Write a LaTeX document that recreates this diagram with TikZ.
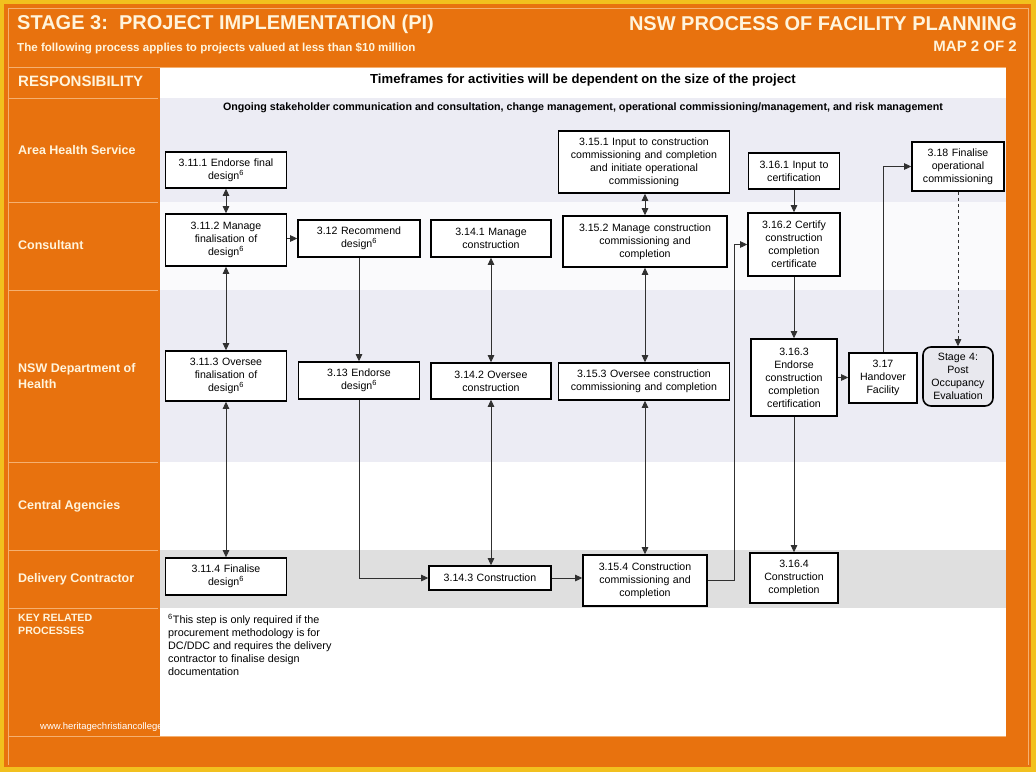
\documentclass[tikz,border=0pt]{standalone}
\usepackage{fontspec}
\setmainfont{Liberation Sans}
\usetikzlibrary{arrows.meta}
\definecolor{orng}{HTML}{E8720E}
\definecolor{orngline}{HTML}{F5B070}
\definecolor{yel}{HTML}{F2C01E}
\definecolor{cream}{HTML}{FFF4DC}
\definecolor{lav}{HTML}{ECECF4}
\definecolor{wht2}{HTML}{FAFAFC}
\definecolor{gry}{HTML}{DFDFDF}
\definecolor{arrowc}{HTML}{303030}
\definecolor{stagefill}{HTML}{E8E8EE}
\begin{document}
\begin{tikzpicture}[x=1pt,y=-1pt,
  box/.style={draw=black, line width=1.6pt, fill=white, align=center, inner sep=1pt,
    font=\fontsize{10.6}{13}\selectfont},
  lanelabel/.style={anchor=west, inner sep=0pt, font=\bfseries\fontsize{12.5}{15.5}\selectfont, text=cream, align=left},
  conn/.style={draw=arrowc, line width=0.8pt},
  onetip/.style={conn, -{Triangle[length=7pt,width=6.5pt]}},
  twotip/.style={conn, {Triangle[length=7pt,width=6.5pt]}-{Triangle[length=7pt,width=6.5pt]}},
  sep/.style={draw=orngline, line width=1pt}
]
\useasboundingbox (0,0) rectangle (1036,772);
% frame
\fill[yel] (0,0) rectangle (1036,772);
\fill[orng] (4,4) rectangle (1031,767);
\draw[sep] (8,8) -- (1028,8);
\draw[sep] (8,8) -- (8,765);
\draw[sep] (1028,8) -- (1028,765);
% content backgrounds
\fill[white] (160,68) rectangle (1006,98);
\fill[lav] (160,98) rectangle (1006,202);
\fill[wht2] (160,202) rectangle (1006,290);
\fill[lav] (160,290) rectangle (1006,462);
\fill[white] (160,462) rectangle (1006,550);
\fill[gry] (160,550) rectangle (1006,608);
\fill[white] (160,608) rectangle (1006,736);
\draw[sep] (8,67) -- (1006,67);
\draw[sep] (8,736.5) -- (1006,736.5);
\foreach \yy in {98,202,290,462,550,608} \draw[sep] (8,\yy) -- (158,\yy);
% header texts
\node[anchor=west, inner sep=0pt, text=cream, font=\bfseries\fontsize{20}{22}\selectfont] (title) at (17,24) {STAGE 3:\ \ PROJECT IMPLEMENTATION (PI)};
\node[anchor=west, inner sep=0pt, text=cream, font=\bfseries\fontsize{11.6}{13}\selectfont] (subtitle) at (17,48) {The following process applies to projects valued at less than \$10 million};
\node[anchor=east, inner sep=0pt, text=cream, font=\bfseries\fontsize{20}{22}\selectfont] (rtitle) at (1017,24) {NSW PROCESS OF FACILITY PLANNING};
\node[anchor=east, inner sep=0pt, text=cream, font=\bfseries\fontsize{15}{17}\selectfont] (map) at (1017,46) {MAP 2 OF 2};
\node[anchor=west, inner sep=0pt, text=cream, font=\bfseries\fontsize{15}{17}\selectfont] (resp) at (18,81) {RESPONSIBILITY};
\node[inner sep=0pt, font=\bfseries\fontsize{13.1}{15}\selectfont] (timef) at (583,80) {Timeframes for activities will be dependent on the size of the project};
\node[inner sep=0pt, font=\bfseries\fontsize{10.7}{12}\selectfont] (ongoing) at (583,108) {Ongoing stakeholder communication and consultation, change management, operational commissioning/management, and risk management};
% lane labels
\node[lanelabel] (l1) at (18,150) {Area Health Service};
\node[lanelabel] (l2) at (18,245) {Consultant};
\node[lanelabel] (l3) at (18,376) {NSW Department of\\Health};
\node[lanelabel] (l4) at (18,506) {Central Agencies};
\node[lanelabel] (l5) at (18,579) {Delivery Contractor};
\node[anchor=north west, inner sep=0pt, text=cream, align=left, font=\bfseries\fontsize{10.6}{13}\selectfont] (key) at (18,614) {KEY RELATED\\PROCESSES};
\node[anchor=north west, inner sep=0pt, align=left, font=\fontsize{10.8}{13}\selectfont] (foot) at (168,614) {\textsuperscript{6}This step is only required if the\\procurement methodology is for\\DC/DDC and requires the delivery\\contractor to finalise design\\documentation};
\node[anchor=west, inner sep=0pt, text=white, font=\fontsize{9.5}{11}\selectfont] (wm) at (40,727) {www.heritagechristiancollege.com};
% process boxes
\node[box, minimum width=121pt, minimum height=36pt, text width=117pt] (n1111) at (226,170) {3.11.1 Endorse final\\design\textsuperscript{6}};
\node[box, minimum width=121pt, minimum height=52pt, text width=117pt] (n1112) at (226,240) {3.11.2 Manage\\finalisation of\\design\textsuperscript{6}};
\node[box, minimum width=121pt, minimum height=50pt, text width=117pt] (n1113) at (226,376) {3.11.3 Oversee\\finalisation of\\design\textsuperscript{6}};
\node[box, minimum width=121pt, minimum height=37pt, text width=117pt] (n1114) at (226,576.5) {3.11.4 Finalise\\design\textsuperscript{6}};
\node[box, minimum width=122pt, minimum height=37pt, text width=118pt] (n312) at (359,238.5) {3.12 Recommend\\design\textsuperscript{6}};
\node[box, minimum width=121pt, minimum height=37pt, text width=117pt] (n313) at (359,380.5) {3.13 Endorse\\design\textsuperscript{6}};
\node[box, minimum width=120pt, minimum height=37pt, text width=116pt] (n3141) at (491,238.5) {3.14.1 Manage\\construction};
\node[box, minimum width=120pt, minimum height=36pt, text width=116pt] (n3142) at (491,381) {3.14.2 Oversee\\construction};
\node[box, minimum width=122pt, minimum height=24pt, text width=118pt] (n3143) at (490,578) {3.14.3 Construction};
\node[box, minimum width=171pt, minimum height=62pt, text width=167pt] (n3151) at (644,162) {3.15.1 Input to construction\\commissioning and completion\\and initiate operational\\commissioning};
\node[box, minimum width=164pt, minimum height=51pt, text width=160pt] (n3152) at (645,241.5) {3.15.2 Manage construction\\commissioning and\\completion};
\node[box, minimum width=171pt, minimum height=37pt, text width=167pt] (n3153) at (644,381.5) {3.15.3 Oversee construction\\commissioning and completion};
\node[box, minimum width=124pt, minimum height=51pt, text width=120pt] (n3154) at (645,580.5) {3.15.4 Construction\\commissioning and\\completion};
\node[box, minimum width=91pt, minimum height=36pt, text width=87pt] (n3161) at (794,171) {3.16.1 Input to\\certification};
\node[box, minimum width=92pt, minimum height=63pt, text width=88pt] (n3162) at (794,244.5) {3.16.2 Certify\\construction\\completion\\certificate};
\node[box, minimum width=86pt, minimum height=77pt, text width=82pt] (n3163) at (794,377.5) {3.16.3\\Endorse\\construction\\completion\\certification};
\node[box, minimum width=88pt, minimum height=50pt, text width=84pt] (n3164) at (794,578) {3.16.4\\Construction\\completion};
\node[box, minimum width=68pt, minimum height=50pt, text width=64pt] (n317) at (883,378) {3.17\\Handover\\Facility};
\node[box, minimum width=92pt, minimum height=49pt, text width=88pt] (n318) at (958,166.5) {3.18 Finalise\\operational\\commissioning};
\node[box, fill=stagefill, rounded corners=8pt, minimum width=70pt, minimum height=59pt, text width=66pt] (st4) at (958,376.5) {Stage 4:\\Post\\Occupancy\\Evaluation};
% connectors
\draw[twotip] (n1111.south) -- (n1112.north);
\draw[twotip] (n1112.south) -- (n1113.north);
\draw[twotip] (n1113.south) -- (n1114.north);
\draw[onetip] (n1112.east |- n312.west) -- (n312.west);
\draw[onetip] (n312.south) -- (n313.north);
\draw[onetip] (n313.south) |- (n3143.west);
\draw[twotip] (n3141.south) -- (n3142.north);
\draw[twotip] (n3142.south) -- (n3143.north -| n3142.south);
\draw[onetip] (n3143.east) -- (n3143.east -| n3154.west);
\draw[twotip] (n3152.north |- n3151.south) -- (n3152.north);
\draw[twotip] (n3152.south) -- (n3152.south |- n3153.north);
\draw[twotip] (n3154.north |- n3153.south) -- (n3154.north);
\coordinate (j1) at (734,580.5);
\draw[onetip] (n3154.east) -- (j1) |- (n3162.west);
\draw[onetip] (n3161.south) -- (n3162.north);
\draw[onetip] (n3162.south) -- (n3163.north);
\draw[onetip] (n3163.south) -- (n3164.north);
\draw[onetip] (n3163.east) -- (n3163.east -| n317.west);
\draw[onetip] (n317.north) |- (n318.west);
\draw[onetip, dashed] (n318.south) -- (st4.north);
\end{tikzpicture}
\end{document}
